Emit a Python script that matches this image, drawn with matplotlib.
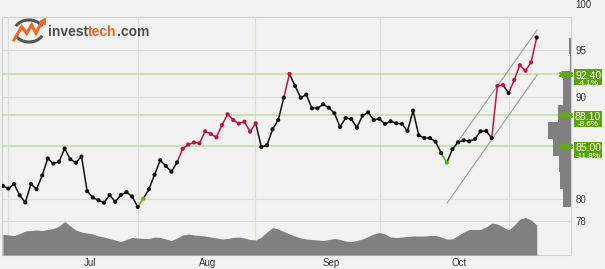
import numpy as np
import matplotlib.pyplot as plt
from matplotlib.patches import Rectangle, Arc
from matplotlib.ticker import FixedLocator, NullLocator

plt.rcParams['font.family'] = ['Liberation Sans', 'DejaVu Sans']

# daily closes
close = [81.21, 80.96, 81.39, 80.34, 79.68, 81.39, 80.91, 82.20, 83.82, 83.32,
         83.51, 84.79, 83.75, 83.41, 84.01, 80.72, 80.14, 79.88, 79.66, 80.37,
         79.74, 80.37, 80.63, 80.23, 79.27, 80.03, 80.90, 82.27, 83.65, 83.10,
         82.56, 83.44, 84.77, 85.18, 85.38, 85.30, 86.49, 86.22, 85.89, 87.12,
         88.20, 87.62, 87.25, 87.45, 86.45, 87.29, 84.94, 85.11, 86.69, 87.62,
         89.90, 92.39, 91.12, 89.90, 90.22, 88.81, 88.81, 89.22, 88.87, 88.30,
         86.92, 87.82, 87.72, 86.85, 88.06, 88.40, 87.62, 87.75, 87.22, 87.49,
         87.29, 87.22, 86.52, 88.57, 86.09, 85.82, 85.82, 85.46, 84.33, 83.42,
         84.72, 85.40, 85.60, 85.50, 85.72, 86.49, 86.52, 85.82, 91.14, 91.22,
         90.39, 91.76, 93.33, 92.74, 93.63, 96.36]

# signal per day: k = neutral, r = overbought, g = buy signal
signal = ("k" * 25 + "g" + "k" * 6 + "r" * 14 + "k" * 5 + "r" + "k" * 27 +
          "g" + "k" * 8 + "rr" + "k" + "r" * 5)

# daily volume (thousands)
volume = [207, 200, 195, 215, 240, 245, 250, 245, 255, 265,
          290, 335, 290, 250, 230, 220, 210, 190, 180, 165,
          150, 135, 155, 175, 170, 165, 165, 180, 175, 160,
          145, 170, 200, 210, 200, 195, 190, 180, 170, 160,
          165, 175, 180, 170, 155, 150, 180, 230, 275, 260,
          235, 210, 190, 170, 160, 155, 150, 145, 155, 165,
          155, 140, 135, 145, 160, 185, 210, 225, 210, 180,
          175, 180, 185, 190, 190, 190, 195, 195, 180, 160,
          160, 195, 230, 255, 255, 255, 280, 320, 310, 280,
          250, 300, 360, 375, 350, 300]

# volume at price profile (right edge)
profile_edges = [96.3, 94.5, 92.7, 90.9, 89.1, 87.4, 85.7, 84.1, 82.5, 80.9, 79.3]
profile_vol = [2, 1, 8, 8, 13, 23, 18, 12, 11, 8]

# support / resistance levels
levels = [92.40, 88.10, 85.00]
level_pct = ['-4.1%', '-8.6%', '-11.8%']

# rising trend channel (day index, price)
channel_upper = ([80.8, 95.07], [85.33, 97.20])
channel_lower = ([79.06, 95.07], [79.63, 92.29])

month_names = ['Jul', 'Aug', 'Sep', 'Oct']
month_pos = [15.5, 36.5, 58.4, 81.2]
grid_days = [1, 24.1, 44.9, 67.1, 90.1]
price_ticks = [78, 80, 90, 95]

BG = '#f2f2f2'
RED = '#c8103e'
GREEN = '#5fae0c'
colors = {'k': '#111111', 'r': RED, 'g': GREEN}

fig = plt.figure(figsize=(6.05, 2.69), dpi=100, facecolor=BG)
ax = fig.add_axes([2 / 605, 14 / 269, 569 / 605, 238 / 269])
ax.set_facecolor(BG)
ax.set_yscale('log')
ax.set_xlim(-0.15, 101.1)
ax.set_ylim(75.0, 98.66)

# volume area on its own scale (drawn over the grid)
axv = ax.twinx()
x = np.arange(len(close))
axv.fill_between(x, volume, color='#808080', lw=0)
axv.set_ylim(0, max(volume) * 6.35)
axv.set_yticks([])
for sp in axv.spines.values():
    sp.set_visible(False)

# grid
for g in grid_days:
    ax.axvline(g, color='#e0dcd2', lw=0.8, zorder=0)
for t in price_ticks:
    ax.axhline(t, color='#dcdcdc', lw=0.8, zorder=0)
for lv in levels:
    ax.axhline(lv, color='#c5dea6', lw=1.2, zorder=1)

# channel
ax.plot(*channel_upper, color='#9a9a9a', lw=0.8, zorder=2)
ax.plot(*channel_lower, color='#9a9a9a', lw=0.8, zorder=2)

# price line, coloured by signal
for i in range(1, len(close)):
    ax.plot([x[i - 1], x[i]], [close[i - 1], close[i]],
            color=colors[signal[i]], lw=1.1, zorder=3, solid_capstyle='round')
dot_cols = [colors[s] for s in signal]
dot_cols[-1] = '#111111'  # latest close
ax.scatter(x, close, s=9, c=dot_cols, zorder=4, linewidths=0)

# volume at price
xmax = ax.get_xlim()[1]
pw = np.array(profile_vol) / max(profile_vol) * 4.09
bottoms = profile_edges[1:]
heights = np.array(profile_edges[:-1]) - np.array(profile_edges[1:])
ax.barh(bottoms, pw, height=heights, left=xmax - pw, align='edge',
        color='#808080', lw=0, zorder=2)

# level markers and labels
for lv, pct in zip(levels, level_pct):
    ax.plot([99.5, 100.8], [lv, lv], ls='none', marker=(6, 2, 0), ms=5,
            mew=1.1, color=GREEN, zorder=6, clip_on=False)
    box = Rectangle((1.0053, lv * np.exp(-11.5 / 868)), 0.0492,
                    lv * (np.exp(4.6 / 868) - np.exp(-11.5 / 868)),
                    transform=ax.get_yaxis_transform(), facecolor='#5aa10a',
                    edgecolor='none', clip_on=False, zorder=6)
    ax.add_patch(box)
    ax.annotate(f'{lv:.2f}', xy=(1.03, lv), xycoords=('axes fraction', 'data'),
                xytext=(0, -1.3), textcoords='offset points', ha='center', va='center',
                fontsize=7.5, color='white', zorder=7, annotation_clip=False)
    ax.annotate(pct, xy=(1.03, lv), xycoords=('axes fraction', 'data'),
                xytext=(0, -7.0), textcoords='offset points', ha='center', va='center',
                fontsize=5.8, color='white', zorder=7, annotation_clip=False)

# axes styling (after twinx, which moves ticks to the left)
ax.yaxis.tick_right()
ax.yaxis.set_major_locator(FixedLocator(price_ticks))
ax.yaxis.set_minor_locator(NullLocator())
ax.set_yticklabels([str(t) for t in price_ticks])
ax.tick_params(axis='y', which='both', left=False, right=False, labelleft=False,
               labelright=True, length=0, pad=3, labelsize=7, labelcolor='#333333')
ax.text(1.007, 100, '100', transform=ax.get_yaxis_transform(), va='center',
        ha='left', fontsize=7, color='#333333', clip_on=False)
ax.set_xticks(month_pos)
ax.set_xticklabels(month_names)
ax.tick_params(axis='x', length=0, pad=2, labelsize=7, labelcolor='#333333')
for sp in ax.spines.values():
    sp.set_color('#cfcfcf')
    sp.set_linewidth(0.8)

# logo
ov = fig.add_axes([0, 0, 1, 1])
ov.set_xlim(0, 605)
ov.set_ylim(269, 0)
ov.axis('off')
ov.add_patch(Arc((29, 31), 29, 22, theta1=200, theta2=340, color='#555555', lw=2.2))
ov.add_patch(Arc((29, 31), 29, 22, theta1=20, theta2=160, color='#555555', lw=2.2))
ov.plot([14, 21.7, 26.7, 31.7, 36, 41.5], [40, 26.7, 33.3, 25, 33.3, 22],
        color='#f26522', lw=2.2, solid_joinstyle='miter')
ov.plot([43.3], [20.5], marker=(3, 0, -30), ms=5, color='#f26522')

renderer = fig.canvas.get_renderer()
xpos = 48
for part, col in [('invest', '#4d4d4d'), ('tech', '#f26522'), ('.com', '#4d4d4d')]:
    t = ov.text(xpos, 36, part, fontsize=10, fontweight='bold', color=col,
                ha='left', va='baseline')
    bb = t.get_window_extent(renderer)
    xpos = ov.transData.inverted().transform((bb.x1, bb.y0))[0]

fig.savefig('out.png', dpi=100, facecolor=BG)
